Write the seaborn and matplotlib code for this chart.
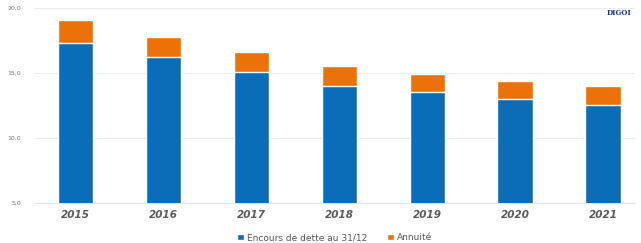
import pandas as pd
import seaborn as sns
import matplotlib.pyplot as plt

years = ['2015', '2016', '2017', '2018', '2019', '2020', '2021']
encours = [17.3, 16.2, 15.1, 14.0, 13.5, 13.0, 12.5]   # encours de dette au 31/12
annuite = [1.8, 1.6, 1.5, 1.5, 1.4, 1.4, 1.5]

blue = '#0B6DB7'
orange = '#EC7108'

df = pd.DataFrame({'annee': years, 'encours': encours, 'annuite': annuite})
df['total'] = df['encours'] + df['annuite']

sns.set_style('white')
fig = plt.figure(figsize=(6.41, 2.43), dpi=100)
ax = fig.add_axes([0.055, 0.165, 0.935, 0.802])

# total first (orange), encours drawn over it
sns.barplot(data=df, x='annee', y='total', color=orange, width=0.4,
            saturation=1, ax=ax, label='Annuité', zorder=2)
sns.barplot(data=df, x='annee', y='encours', color=blue, width=0.4,
            saturation=1, ax=ax, label='Encours de dette au 31/12', zorder=3)

ax.set_ylim(5, 20)
ax.set_xlim(-0.46, 6.36)
ax.set_yticks([5, 10, 15, 20])
ax.set_yticklabels(['5,0', '10,0', '15,0', '20,0'])
ax.grid(axis='y', color='#ececec', linewidth=0.8, zorder=0)
ax.set_axisbelow(True)
for s in ['top', 'right', 'left']:
    ax.spines[s].set_visible(False)
ax.spines['bottom'].set_color('#e6e6e6')
ax.tick_params(axis='y', labelsize=4.5, labelcolor='#777777', length=0, pad=10)
ax.tick_params(axis='x', length=0, pad=5)
for lbl in ax.get_xticklabels():
    lbl.set_fontsize(7.5)
    lbl.set_fontweight('bold')
    lbl.set_fontstyle('italic')
    lbl.set_color('#5a5a5a')
ax.set_xlabel('')
ax.set_ylabel('')

h, l = ax.get_legend_handles_labels()
order = [l.index('Encours de dette au 31/12'), l.index('Annuité')]
ax.legend([h[i] for i in order], [l[i] for i in order], loc='center',
          bbox_to_anchor=(0.5, -0.18), ncol=2,
          frameon=False, fontsize=6.5, handlelength=0.7, handleheight=0.7,
          handletextpad=0.4, columnspacing=2.2, labelcolor='#555555')

fig.text(0.985, 0.94, 'DIGOI', fontsize=5, color='#1a3a7a', ha='right',
         fontweight='bold', family='serif')

fig.savefig('out.png', dpi=100)
